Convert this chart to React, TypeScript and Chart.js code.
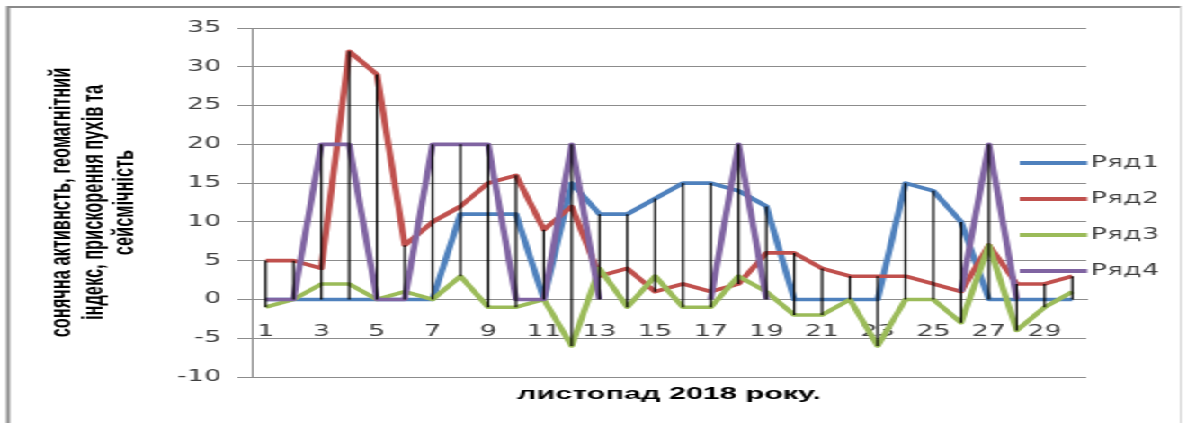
import React, { useEffect, useRef } from "react";
import { Chart, registerables } from "chart.js";

Chart.register(...registerables);

// Days of November 2018
const days = [
  "1", "2", "3", "4", "5", "6", "7", "8", "9", "10",
  "11", "12", "13", "14", "15", "16", "17", "18", "19", "20",
  "21", "22", "23", "24", "25", "26", "27", "28", "29", "30",
];

const series1 = [0, 0, 0, 0, 0, 0, 0, 11, 11, 11, 0, 15, 11, 11, 13, 15, 15, 14, 12, 0, 0, 0, 0, 15, 14, 10, 0, 0, 0, 0];
const series2 = [5, 5, 4, 32, 29, 7, 10, 12, 15, 16, 9, 12, 3, 4, 1, 2, 1, 2, 6, 6, 4, 3, 3, 3, 2, 1, 7, 2, 2, 3];
const series3 = [-1, 0, 2, 2, 0, 1, 0, 3, -1, -1, 0, -6, 4, -1, 3, -1, -1, 3, 1, -2, -2, 0, -6, 0, 0, -3, 7, -4, -1, 1];
const series4 = [0, 0, 20, 20, 0, 0, 20, 20, 20, 0, 0, 20, 0, null, null, null, 0, 20, 0, null, null, null, null, null, null, 1, 20, 0, null, null];

const seriesNames = ["Ряд1", "Ряд2", "Ряд3", "Ряд4"];
const seriesColors = ["#4F81BD", "#C0504D", "#9BBB59", "#8064A2"];

const yTitle = ["сонячна активнсть, геомагнітний", "індекс, прискорення пухів та", "сейсмічність"];
const xTitle = "листопад 2018 року.";

// The drawing is laid out on a narrow canvas and widened with a CSS transform.
const BASE_W = 660;
const BASE_H = 423;
const STRETCH = 1187 / BASE_W;

const GRID = "#8c8c8c";
const TEXT = "#404040";

const framePlugin = {
  id: "frame",
  beforeDraw(chart: any) {
    const { ctx, width, height } = chart;
    ctx.save();
    ctx.fillStyle = "#ffffff";
    ctx.fillRect(0, 0, width, height);
    ctx.strokeStyle = "#8a8a8a";
    ctx.lineWidth = 2;
    ctx.beginPath();
    ctx.moveTo(4.5, height + 10);
    ctx.lineTo(4.5, 7);
    ctx.lineTo(width - 3.5, 7);
    ctx.stroke();
    ctx.strokeStyle = "#d8d8d8";
    ctx.lineWidth = 1;
    ctx.beginPath();
    ctx.moveTo(width - 3.5, 7);
    ctx.lineTo(width - 3.5, height + 10);
    ctx.stroke();
    ctx.restore();
  },
};

// Vertical high-low lines joining the extreme values at each day
const hiLoPlugin = {
  id: "hiLo",
  afterDatasetsDraw(chart: any) {
    const { ctx, scales } = chart;
    const x = scales.x;
    const y = scales.y;
    const n = chart.data.labels.length;
    ctx.save();
    ctx.strokeStyle = "#000000";
    ctx.lineWidth = 1.2;
    for (let i = 0; i < n; i++) {
      const vals = chart.data.datasets
        .map((d: any) => d.data[i])
        .filter((v: any) => v !== null && v !== undefined);
      if (vals.length < 2) continue;
      const hi = Math.max(...vals);
      const lo = Math.min(...vals);
      if (hi === lo) continue;
      const px = x.getPixelForValue(i);
      ctx.beginPath();
      ctx.moveTo(px, y.getPixelForValue(hi));
      ctx.lineTo(px, y.getPixelForValue(lo));
      ctx.stroke();
    }
    ctx.restore();
  },
};

// Legend placed over the right edge of the plot
const sideLegendPlugin = {
  id: "sideLegend",
  afterDraw(chart: any) {
    const { ctx, chartArea } = chart;
    ctx.save();
    chart.data.datasets.forEach((ds: any, i: number) => {
      const yy = chartArea.top + 135 + i * 36;
      ctx.strokeStyle = ds.borderColor;
      ctx.lineWidth = 4;
      ctx.lineCap = "butt";
      ctx.beginPath();
      ctx.moveTo(chartArea.right - 37, yy);
      ctx.lineTo(chartArea.right + 0.5, yy);
      ctx.stroke();
      ctx.fillStyle = TEXT;
      ctx.font = '15px "DejaVu Sans"';
      ctx.textBaseline = "middle";
      ctx.textAlign = "left";
      ctx.fillText(ds.label, chartArea.right + 2.5, yy);
    });
    ctx.restore();
  },
};

export default function App() {
  const canvasRef = useRef<HTMLCanvasElement | null>(null);

  useEffect(() => {
    if (!canvasRef.current) return;
    const all = [series1, series2, series3, series4];
    const chart = new Chart(canvasRef.current, {
      type: "line",
      data: {
        labels: days,
        datasets: all.map((data, i) => ({
          label: seriesNames[i],
          data,
          borderColor: seriesColors[i],
          backgroundColor: seriesColors[i],
          borderWidth: 3.6,
          pointRadius: 0,
          pointHoverRadius: 0,
          tension: 0,
          spanGaps: false,
          borderJoinStyle: "round" as const,
          order: all.length - i,
        })),
      },
      options: {
        responsive: false,
        maintainAspectRatio: false,
        animation: false,
        devicePixelRatio: 1,
        layout: { padding: { top: 28, bottom: 46, left: 0, right: 56 } },
        plugins: {
          legend: { display: false },
          tooltip: { enabled: false },
        },
        scales: {
          x: {
            type: "category",
            position: { y: 0 } as any,
            offset: true,
            grid: { display: false },
            border: { display: true, color: GRID, width: 1 },
            ticks: {
              autoSkip: false,
              maxRotation: 0,
              minRotation: 0,
              padding: 16,
              color: TEXT,
              font: { family: "DejaVu Sans", size: 15, lineHeight: 1.2 },
              callback: (_v: any, i: number) => (i % 2 === 0 ? days[i] : ""),
            },
            title: {
              display: true,
              text: xTitle,
              color: "#000000",
              font: { family: "Liberation Sans", size: 17, weight: "bold", lineHeight: 1.2 },
              padding: { top: 27, bottom: 0 },
            },
          },
          y: {
            min: -10,
            max: 35,
            ticks: {
              stepSize: 5,
              padding: 9,
              color: TEXT,
              font: { family: "DejaVu Sans", size: 15 },
            },
            grid: { color: GRID, lineWidth: 1, tickLength: 8 },
            border: { display: true, color: GRID, width: 1 },
            title: {
              display: true,
              text: yTitle,
              color: "#000000",
              font: { family: "Liberation Sans", size: 16.4, weight: "bold", lineHeight: 1.08 },
              padding: { top: 25.6, bottom: 0 },
            },
            afterFit: (scale: any) => {
              scale.width = 140;
            },
          },
        },
      },
      plugins: [framePlugin, hiLoPlugin, sideLegendPlugin],
    } as any);
    return () => chart.destroy();
  }, []);

  return (
    <div
      style={{
        position: "fixed",
        left: 0,
        top: 0,
        width: BASE_W,
        height: BASE_H,
        transform: `scaleX(${STRETCH})`,
        transformOrigin: "0 0",
        background: "#ffffff",
      }}
    >
      <canvas ref={canvasRef} width={BASE_W} height={BASE_H} style={{ display: "block" }} />
    </div>
  );
}
